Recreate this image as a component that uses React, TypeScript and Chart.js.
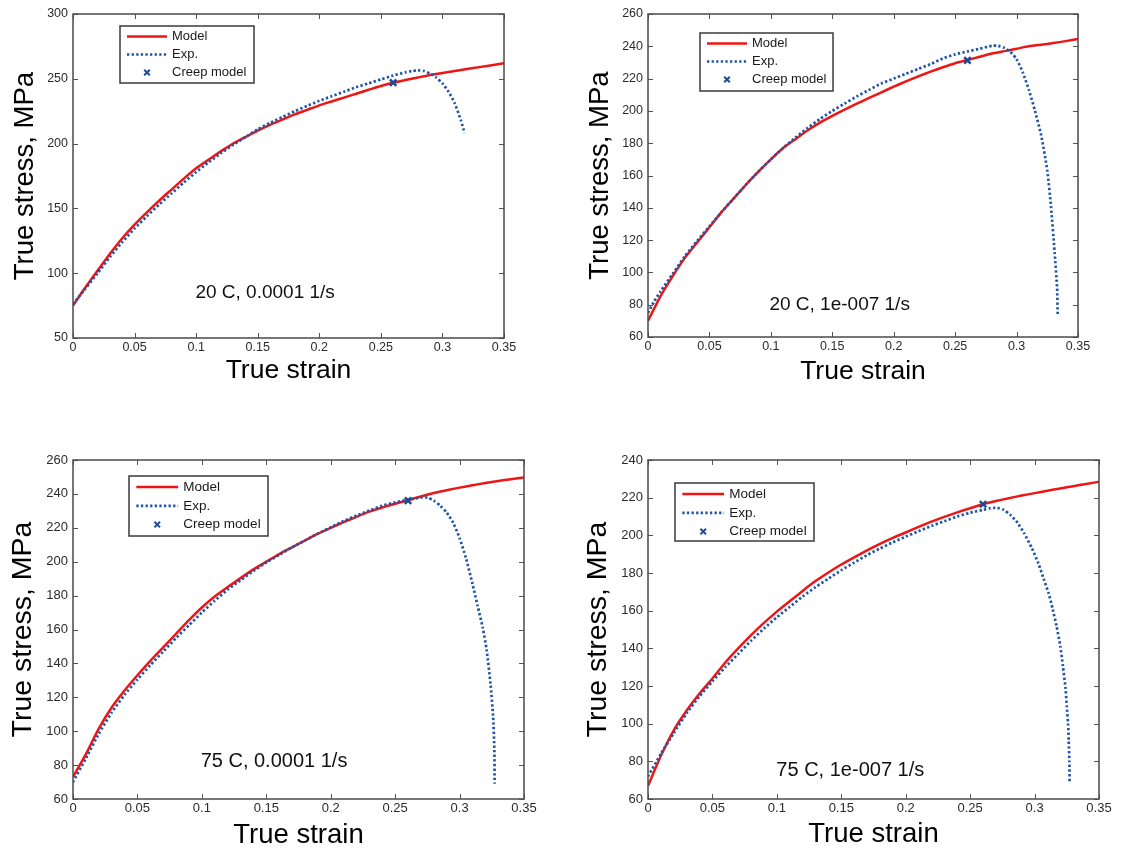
import React, { useEffect, useRef } from 'react';
import { Chart, registerables } from 'chart.js';

Chart.register(...registerables);

const FONT = '"Liberation Sans", Arial, Helvetica, sans-serif';

// ---------- shared axis ticks ----------
const xTicks = [0, 0.05, 0.1, 0.15, 0.2, 0.25, 0.3, 0.35];
const yTicksA = [50, 100, 150, 200, 250, 300];
const yTicksB = [60, 80, 100, 120, 140, 160, 180, 200, 220, 240, 260];
const yTicksC = [60, 80, 100, 120, 140, 160, 180, 200, 220, 240, 260];
const yTicksD = [60, 80, 100, 120, 140, 160, 180, 200, 220, 240];

const strainGrid = [0, 0.01, 0.02, 0.03, 0.04, 0.05, 0.06, 0.07, 0.08, 0.09, 0.1, 0.11, 0.12, 0.13, 0.14, 0.15, 0.16, 0.17, 0.18, 0.19, 0.2, 0.21, 0.22, 0.23, 0.24, 0.25, 0.26, 0.27, 0.28, 0.29, 0.3, 0.31, 0.32, 0.33, 0.34, 0.35];

// ---------- Panel A: 20 C, 0.0001 1/s ----------
const strainModelA = [0, 0.005, 0.01, 0.02, 0.03, 0.04, 0.05, 0.06, 0.07, 0.08, 0.09, 0.1, 0.11, 0.12, 0.13, 0.14, 0.15, 0.16, 0.17, 0.18, 0.19, 0.2, 0.21, 0.22, 0.23, 0.24, 0.25, 0.26, 0.27, 0.28, 0.29, 0.3, 0.31, 0.32, 0.33, 0.34, 0.35];
const stressModelA = [75, 82, 89, 102, 115, 127, 137.5, 147, 156, 164.5, 173, 181, 187.5, 194, 200, 205, 210, 214.5, 218.5, 222.5, 226, 229.5, 232.5, 235.5, 238.5, 241.5, 244.5, 247, 249, 251, 253, 254.5, 256, 257.5, 259, 260.5, 262];
const strainExpA = [0, 0.005, 0.01, 0.02, 0.03, 0.04, 0.05, 0.06, 0.07, 0.08, 0.09, 0.1, 0.11, 0.12, 0.13, 0.14, 0.15, 0.16, 0.17, 0.18, 0.19, 0.2, 0.21, 0.22, 0.23, 0.24, 0.25, 0.26, 0.27, 0.275, 0.28, 0.285, 0.29, 0.295, 0.3, 0.305, 0.31, 0.315, 0.318];
const stressExpA = [76, 82, 88, 100, 112.5, 124, 134.5, 144, 153, 161.5, 170, 178, 185.5, 192.5, 199, 205, 211, 216, 220.5, 225, 229, 233, 236.5, 240, 243.5, 246.5, 249.5, 252.5, 255, 256, 256.5, 256, 254, 251, 246.5, 240, 231, 218, 208];
const creepA = { x: 0.26, y: 247 };
const noteA = '20 C, 0.0001 1/s';

// ---------- Panel B: 20 C, 1e-007 1/s ----------
const stressModelB = [70, 85, 97.5, 109, 118.5, 128, 137.5, 146, 154.5, 162.5, 170, 177, 182.5, 188, 192.7, 196.9, 200.8, 204.5, 208, 211.5, 215, 218.3, 221.4, 224.3, 227, 229.5, 231.5, 233.5, 235.5, 237, 238.5, 240, 241, 242, 243.2, 244.5];
const strainExpB = [0, 0.005, 0.01, 0.02, 0.03, 0.04, 0.05, 0.06, 0.07, 0.08, 0.09, 0.1, 0.11, 0.12, 0.13, 0.14, 0.15, 0.16, 0.17, 0.18, 0.19, 0.2, 0.21, 0.22, 0.23, 0.24, 0.25, 0.26, 0.27, 0.28, 0.285, 0.29, 0.295, 0.3, 0.305, 0.31, 0.315, 0.32, 0.325, 0.328, 0.331, 0.333, 0.3335];
const stressExpB = [75, 82, 88, 99, 110, 119.5, 128.5, 137.5, 146, 154.5, 162.5, 170, 177, 183.5, 189.5, 195, 200, 204.5, 209, 213, 217, 220, 223, 226, 229, 232.5, 235, 236.8, 238.5, 240.3, 240.3, 239, 236.5, 232, 224, 213, 200, 185, 163, 141, 112, 90, 73];
const creepB = { x: 0.26, y: 231.3 };
const noteB = '20 C, 1e-007 1/s';

// ---------- Panel C: 75 C, 0.0001 1/s ----------
const stressModelC = [73, 86.5, 101.5, 114, 124, 133, 141.5, 149.5, 157.5, 165.5, 173, 179.5, 185, 190.3, 195.5, 200, 204.5, 208.5, 212.5, 216.5, 220, 223.3, 226.5, 229.5, 232, 234.2, 236.3, 238.5, 240.5, 242.2, 243.7, 245.1, 246.4, 247.6, 248.7, 249.7];
const strainExpC = [0, 0.01, 0.02, 0.03, 0.04, 0.05, 0.06, 0.07, 0.08, 0.09, 0.1, 0.11, 0.12, 0.13, 0.14, 0.15, 0.16, 0.17, 0.18, 0.19, 0.2, 0.21, 0.22, 0.23, 0.24, 0.25, 0.26, 0.27, 0.275, 0.28, 0.285, 0.29, 0.295, 0.3, 0.305, 0.31, 0.314, 0.318, 0.321, 0.324, 0.326, 0.327, 0.3272];
const stressExpC = [70, 84, 98.5, 111, 121.5, 130.5, 139, 147, 155, 162.5, 170, 177, 183.5, 189, 194.5, 199.5, 204, 208.5, 212.5, 216.5, 220.3, 224, 227.2, 230.2, 233, 235, 236.6, 237.8, 237.8, 236, 233, 229, 223, 214, 202, 187, 174, 161, 148, 128, 109, 89, 69];
const creepC = { x: 0.26, y: 236 };
const noteC = '75 C, 0.0001 1/s';

// ---------- Panel D: 75 C, 1e-007 1/s ----------
const stressModelD = [67, 83, 96.5, 107, 116, 124, 132.5, 140, 147, 153.5, 159.5, 165, 170.5, 175.7, 180.3, 184.5, 188.3, 192, 195.5, 198.7, 201.5, 204.5, 207.3, 209.8, 212.2, 214.4, 216.5, 218.2, 219.7, 221.1, 222.4, 223.7, 224.9, 226.1, 227.3, 228.4];
const strainExpD = [0, 0.01, 0.02, 0.03, 0.04, 0.05, 0.06, 0.07, 0.08, 0.09, 0.1, 0.11, 0.12, 0.13, 0.14, 0.15, 0.16, 0.17, 0.18, 0.19, 0.2, 0.21, 0.22, 0.23, 0.24, 0.25, 0.26, 0.265, 0.271, 0.276, 0.281, 0.287, 0.292, 0.298, 0.303, 0.307, 0.311, 0.314, 0.317, 0.32, 0.322, 0.324, 0.325, 0.326, 0.3265, 0.327, 0.3272];
const stressExpD = [72, 84, 95, 105.5, 114.5, 122.5, 130, 137, 144, 150.5, 156.5, 162, 167.5, 172.5, 177, 181.5, 185.5, 189.5, 193, 196.3, 199.3, 202.2, 205, 207.5, 210, 212, 213.5, 214.3, 214.6, 213.5, 211, 206.5, 201, 193, 185, 177, 169, 161, 152, 141, 130.5, 119, 109, 100, 91, 80, 69];
const creepD = { x: 0.26, y: 216.5 };
const noteD = '75 C, 1e-007 1/s';

// ---------- styles ----------
const RED = '#ef1515';
const BLUE = '#1f55a6';
const MARK = '#1b4c98';

const pts = (xs: number[], ys: number[]) => xs.map((x, i) => ({ x, y: ys[i] }));

const framePlugin = {
  id: 'matlabFrame',
  afterDatasetsDraw(chart: any) {
    const { ctx, chartArea, scales } = chart;
    const { left, top, right, bottom } = chartArea;
    const xs = scales.x;
    const ys = scales.y;
    const tl = 5;
    ctx.save();
    ctx.strokeStyle = '#555';
    ctx.lineWidth = 1;
    ctx.beginPath();
    xs.ticks.forEach((t: any) => {
      const px = Math.round(xs.getPixelForValue(t.value)) + 0.5;
      ctx.moveTo(px, bottom);
      ctx.lineTo(px, bottom - tl);
      ctx.moveTo(px, top);
      ctx.lineTo(px, top + tl);
    });
    ys.ticks.forEach((t: any) => {
      const py = Math.round(ys.getPixelForValue(t.value)) + 0.5;
      ctx.moveTo(left, py);
      ctx.lineTo(left + tl, py);
      ctx.moveTo(right, py);
      ctx.lineTo(right - tl, py);
    });
    ctx.stroke();
    ctx.lineWidth = 1.5;
    ctx.strokeStyle = '#4a4a4a';
    ctx.strokeRect(left, top, right - left, bottom - top);
    ctx.restore();
  },
};

const notePlugin = {
  id: 'noteText',
  afterDraw(chart: any, _a: any, opts: any) {
    const { ctx, scales } = chart;
    ctx.save();
    ctx.fillStyle = '#111';
    ctx.font = `${opts.size}px ${FONT}`;
    ctx.textAlign = 'center';
    ctx.textBaseline = 'middle';
    ctx.fillText(opts.text, scales.x.getPixelForValue(opts.x), scales.y.getPixelForValue(opts.y));
    ctx.restore();
  },
};

const legendPlugin = {
  id: 'boxLegend',
  afterDraw(chart: any, _a: any, opts: any) {
    const { ctx } = chart;
    const { x, y, w, h, s, size } = opts;
    ctx.save();
    ctx.fillStyle = '#fff';
    ctx.fillRect(x, y, w, h);
    ctx.strokeStyle = '#3a3a3a';
    ctx.lineWidth = 1.5;
    ctx.strokeRect(x, y, w, h);
    const rows = [10.5, 28.5, 46.5];
    chart.data.datasets.forEach((ds: any, i: number) => {
      const cy = y + rows[i] * s;
      if (ds.showLine === false) {
        const cx = x + 27 * s;
        const r = 2.8;
        ctx.setLineDash([]);
        ctx.strokeStyle = ds.pointBorderColor;
        ctx.lineWidth = 2;
        ctx.beginPath();
        ctx.moveTo(cx - r, cy - r);
        ctx.lineTo(cx + r, cy + r);
        ctx.moveTo(cx + r, cy - r);
        ctx.lineTo(cx - r, cy + r);
        ctx.stroke();
      } else {
        ctx.setLineDash(ds.borderDash || []);
        ctx.strokeStyle = ds.borderColor;
        ctx.lineWidth = ds.borderWidth;
        ctx.beginPath();
        ctx.moveTo(x + 7 * s, cy);
        ctx.lineTo(x + 47 * s, cy);
        ctx.stroke();
      }
      ctx.setLineDash([]);
      ctx.fillStyle = '#1a1a1a';
      ctx.font = `${size}px ${FONT}`;
      ctx.textAlign = 'left';
      ctx.textBaseline = 'middle';
      ctx.fillText(ds.label, x + 52 * s, cy);
    });
    ctx.restore();
  },
};

type Spec = {
  div: { x: number; y: number; w: number; h: number };
  area: { l: number; t: number; r: number; b: number };
  yTitleCX: number;
  xTitleCY: number;
  yTicks: number[];
  model: { x: number; y: number }[];
  exp: { x: number; y: number }[];
  creep: { x: number; y: number };
  note: { text: string; x: number; y: number; size: number };
  legend: { x: number; y: number; w: number; h: number; s: number; size: number };
  tickSize: number;
  xTitleSize: number;
  yTitleSize: number;
};

const specs: Spec[] = [
  {
    div: { x: 0, y: 0, w: 545, h: 400 },
    area: { l: 73, t: 14, r: 504, b: 338 },
    yTitleCX: 25, xTitleCY: 371,
    yTicks: yTicksA,
    model: pts(strainModelA, stressModelA),
    exp: pts(strainExpA, stressExpA),
    creep: creepA,
    note: { text: noteA, x: 0.156, y: 84.7, size: 19 },
    legend: { x: 120, y: 26, w: 134, h: 57, s: 1, size: 13 },
    tickSize: 12.5, xTitleSize: 26.5, yTitleSize: 27.5,
  },
  {
    div: { x: 560, y: 0, w: 560, h: 400 },
    area: { l: 648, t: 14, r: 1078, b: 337 },
    yTitleCX: 600, xTitleCY: 371.5,
    yTicks: yTicksB,
    model: pts(strainGrid, stressModelB),
    exp: pts(strainExpB, stressExpB),
    creep: creepB,
    note: { text: noteB, x: 0.156, y: 79.8, size: 19 },
    legend: { x: 140, y: 33, w: 133, h: 58, s: 1, size: 13 },
    tickSize: 12.5, xTitleSize: 26.5, yTitleSize: 27.5,
  },
  {
    div: { x: 0, y: 430, w: 560, h: 420 },
    area: { l: 73, t: 460, r: 524, b: 799 },
    yTitleCX: 23, xTitleCY: 835,
    yTicks: yTicksC,
    model: pts(strainGrid, stressModelC),
    exp: pts(strainExpC, stressExpC),
    creep: creepC,
    note: { text: noteC, x: 0.156, y: 82, size: 20 },
    legend: { x: 129, y: 46, w: 139, h: 60, s: 1.045, size: 13.5 },
    tickSize: 13, xTitleSize: 27.5, yTitleSize: 28.5,
  },
  {
    div: { x: 560, y: 430, w: 563, h: 420 },
    area: { l: 648, t: 460, r: 1099, b: 799 },
    yTitleCX: 598.5, xTitleCY: 834.5,
    yTicks: yTicksD,
    model: pts(strainGrid, stressModelD),
    exp: pts(strainExpD, stressExpD),
    creep: creepD,
    note: { text: noteD, x: 0.157, y: 75.4, size: 20 },
    legend: { x: 115, y: 53, w: 139, h: 58, s: 1.045, size: 13.5 },
    tickSize: 13, xTitleSize: 27.5, yTitleSize: 28.5,
  },
];

function buildConfig(sp: Spec): any {
  const { div, area } = sp;
  const yWidth = area.l - div.x;
  const xHeight = div.y + div.h - area.b;
  const xTitlePadBottom = div.y + div.h - sp.xTitleCY - sp.xTitleSize / 2;
  const yTitlePadTop = sp.yTitleCX - div.x - sp.yTitleSize / 2;
  return {
    type: 'line',
    data: {
      datasets: [
        {
          label: 'Model',
          data: sp.model,
          borderColor: RED,
          backgroundColor: RED,
          borderWidth: 2.5,
          pointRadius: 0,
          tension: 0.2,
          fill: false,
          order: 2,
        },
        {
          label: 'Exp.',
          data: sp.exp,
          borderColor: BLUE,
          backgroundColor: BLUE,
          borderWidth: 2.7,
          borderDash: [2.3, 2.3],
          pointRadius: 0,
          tension: 0.2,
          fill: false,
          order: 1,
        },
        {
          label: 'Creep model',
          data: [sp.creep],
          showLine: false,
          borderColor: MARK,
          backgroundColor: MARK,
          pointStyle: 'crossRot',
          pointRadius: 4.5,
          pointBorderWidth: 2.5,
          pointBorderColor: MARK,
          pointBackgroundColor: MARK,
          order: 0,
        },
      ],
    },
    options: {
      responsive: false,
      animation: false,
      events: [],
      layout: {
        padding: { left: 0, top: area.t - div.y, right: div.x + div.w - area.r, bottom: 0 },
      },
      plugins: {
        legend: { display: false },
        tooltip: { enabled: false },
        boxLegend: sp.legend,
        noteText: sp.note,
      },
      scales: {
        x: {
          type: 'linear',
          min: xTicks[0],
          max: xTicks[xTicks.length - 1],
          afterBuildTicks: (s: any) => {
            s.ticks = xTicks.map((v) => ({ value: v }));
          },
          afterFit: (s: any) => {
            s.height = xHeight;
          },
          grid: { display: false, drawTicks: false },
          border: { display: false },
          ticks: {
            autoSkip: false,
            maxRotation: 0,
            padding: 2,
            color: '#2b2b2b',
            font: { family: FONT, size: sp.tickSize },
            callback: (v: any) => String(parseFloat(Number(v).toFixed(2))),
          },
          title: {
            display: true,
            text: 'True strain',
            color: '#000',
            font: { family: FONT, size: sp.xTitleSize, lineHeight: 1 },
            padding: { top: 0, bottom: xTitlePadBottom },
          },
        },
        y: {
          type: 'linear',
          min: sp.yTicks[0],
          max: sp.yTicks[sp.yTicks.length - 1],
          afterBuildTicks: (s: any) => {
            s.ticks = sp.yTicks.map((v) => ({ value: v }));
          },
          afterFit: (s: any) => {
            s.width = yWidth;
          },
          grid: { display: false, drawTicks: false },
          border: { display: false },
          ticks: {
            autoSkip: false,
            padding: 5,
            color: '#2b2b2b',
            font: { family: FONT, size: sp.tickSize },
          },
          title: {
            display: true,
            text: 'True stress, MPa',
            color: '#000',
            font: { family: FONT, size: sp.yTitleSize, lineHeight: 1 },
            padding: { top: yTitlePadTop, bottom: 0 },
          },
        },
      },
    },
    plugins: [framePlugin, notePlugin, legendPlugin],
  };
}

function Panel({ spec }: { spec: Spec }) {
  const ref = useRef<HTMLCanvasElement>(null);
  useEffect(() => {
    const chart = new Chart(ref.current as HTMLCanvasElement, buildConfig(spec));
    return () => chart.destroy();
  }, [spec]);
  const { x, y, w, h } = spec.div;
  return (
    <div style={{ position: 'absolute', left: x, top: y, width: w, height: h }}>
      <canvas ref={ref} width={w} height={h} style={{ display: 'block', width: w, height: h }} />
    </div>
  );
}

export default function App() {
  return (
    <div style={{ position: 'absolute', left: 0, top: 0, width: 1123, height: 850, background: '#fff' }}>
      {specs.map((sp, i) => (
        <Panel key={i} spec={sp} />
      ))}
    </div>
  );
}
